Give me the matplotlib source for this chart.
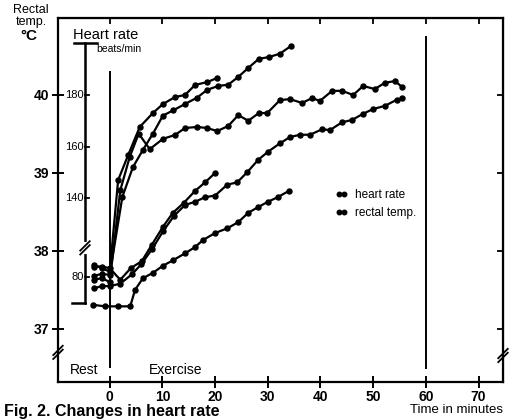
import numpy as np
import matplotlib
matplotlib.use("Agg")
import matplotlib.pyplot as plt

plt.rcParams['font.family'] = ['Liberation Sans', 'DejaVu Sans']

# heart rate curves (minutes, beats/min)
t_hr1 = [-3, -1.5, 0, 1.6, 3.5, 5.7, 8.2, 10.1, 12.4, 14.3, 16.2, 18.5, 20.4]
hr1 = [84.6, 83.5, 82, 147, 156.7, 167.6, 173, 176.5, 179.2, 180, 183.9, 185, 186.6]

t_hr2 = [-3, -1.5, 0, 2.4, 4.4, 6.3, 8.2, 10.1, 12.0, 14.3, 16.6, 18.5, 20.6,
         22.5, 24.4, 26.3, 28.3, 30.2, 32.3, 34.4]
hr2 = [80.4, 81.2, 80.8, 140.5, 152, 158.7, 165, 172, 174, 176.5, 179, 182, 183.5,
       184, 187, 190.5, 194, 194.7, 196, 199]

t_hr3 = [-3, -1.5, 0, 2.0, 3.8, 5.5, 7.6, 10.1, 12.4, 14.3, 16.6, 18.5, 20.4, 22.5,
         24.4, 26.3, 28.3, 29.9, 32.3, 34.2, 36.5, 38.4, 39.9, 42.2, 44.1, 46.2,
         48.1, 50.3, 52.2, 54.1, 55.5]
hr3 = [78.8, 79.6, 78, 143, 156, 165, 159, 163, 164.5, 167.2, 167.6, 167.2, 166, 168,
       172.2, 170, 173, 173, 178, 178.4, 176.9, 178.8, 177.7, 181.6, 181.6, 180,
       183.5, 182.3, 184.7, 185.4, 183.1]

# rectal temperature curves (minutes, deg C)
t_t1 = [-3, -1.5, 0, 2.0, 4.0, 6.1, 8.0, 10.1, 12.0, 14.1, 16.2, 18.1, 20.0]
temp1 = [37.80, 37.80, 37.78, 37.63, 37.78, 37.87, 38.08, 38.31, 38.49, 38.62,
         38.77, 38.88, 39.0]

t_t2 = [-3, -1.5, 0, 2.0, 4.2, 6.0, 8.1, 10.1, 12.2, 14.3, 16.2, 18.1, 20.0, 22.3,
        24.2, 26.1, 28.2, 30.0, 32.3, 34.2, 36.1, 38.0, 40.3, 41.8, 44.1, 46.0,
        48.1, 50.0, 52.2, 54.5, 55.5]
temp2 = [37.52, 37.55, 37.55, 37.58, 37.70, 37.83, 38.03, 38.25, 38.45, 38.59,
         38.63, 38.69, 38.71, 38.85, 38.88, 39.01, 39.17, 39.27, 39.38, 39.46,
         39.49, 39.49, 39.56, 39.55, 39.65, 39.68, 39.76, 39.82, 39.86, 39.94, 39.96]

t_t3 = [-3.2, -0.9, 1.6, 3.9, 4.8, 6.3, 8.2, 10.1, 12.0, 14.3, 16.2, 17.7, 20.0,
        22.3, 24.4, 26.3, 28.1, 30.0, 31.9, 34.0]
temp3 = [37.31, 37.29, 37.29, 37.29, 37.5, 37.65, 37.72, 37.81, 37.88, 37.97,
         38.05, 38.14, 38.23, 38.29, 38.37, 38.49, 38.56, 38.63, 38.69, 38.77]

x_ticks = [0, 10, 20, 30, 40, 50, 60, 70]
temp_ticks = [37, 38, 39, 40]
hr_ticks = [80, 140, 160, 180]


def hr2temp(hr):
    # heart rate scale drawn on the temp axis, broken between 80 and 140
    hr = np.asarray(hr, dtype=float)
    k = 2.58 / 78
    return np.where(hr >= 110, 40 - (180 - hr) * k, 37.667 - (80 - hr) * k)


fig = plt.figure(figsize=(5.14, 4.2), dpi=100)
ax = fig.add_axes([58/514, 38/420, 445/514, 364/420])
ax.set_xlim(-9.81, 74.63)
ax.set_ylim(36.32, 40.987)

style = dict(color='black', lw=1.6, marker='o', ms=3.6)
ax.plot(t_hr1, hr2temp(hr1), label='heart rate', **style)
ax.plot(t_hr2, hr2temp(hr2), **style)
ax.plot(t_hr3, hr2temp(hr3), **style)
ax.plot(t_t1, temp1, label='rectal temp.', **style)
ax.plot(t_t2, temp2, **style)
ax.plot(t_t3, temp3, **style)

# rest / exercise markers
ax.plot([0, 0], [36.51, 40.29], color='black', lw=1.4)
ax.plot([60, 60], [36.50, 40.74], color='black', lw=1.4)

# heart rate axis inside the plot
hx = -4.69
ax.plot([hx, hx], hr2temp([70, 200]), color='black', lw=1.8)
ax.plot([-6.8, -2.4], hr2temp([200, 200]), color='black', lw=1.8)
ax.plot([-7.15, hx], hr2temp([70, 70]), color='black', lw=1.8)
for h in hr_ticks:
    y = float(hr2temp(h))
    ax.plot([hx, hx + 0.8], [y, y], color='black', lw=1.3)
    ax.text(hx - 0.3, y, str(h), ha='right', va='center', fontsize=8)

# break marks
def brk(x, y, ax=ax):
    for d in (-0.025, 0.025):
        ax.plot([x - 0.9, x + 0.9], [y - 0.06 + d, y + 0.06 + d], color='black',
                lw=1.3, clip_on=False)

ax.plot([hx, hx], [37.99, 38.09], color='white', lw=3)
brk(hx, 38.04)
brk(-9.81, 36.70)
brk(74.63, 36.66)

ax.text(-6.95, 40.77, 'Heart rate', fontsize=10.5, va='center')
ax.text(-2.5, 40.59, 'beats/min', fontsize=7.5, va='center')
ax.text(-4.9, 36.47, 'Rest', fontsize=10, ha='center', va='center')
ax.text(12.6, 36.47, 'Exercise', fontsize=10, ha='center', va='center')

ax.set_xticks(x_ticks)
ax.set_xticklabels([str(v) for v in x_ticks], fontweight='bold', fontsize=10)
ax.set_yticks(temp_ticks)
ax.set_yticklabels([str(v) for v in temp_ticks], fontweight='bold', fontsize=10)
ax.tick_params(axis='both', direction='inout', length=8, width=1.4, pad=2)
for s in ax.spines.values():
    s.set_linewidth(1.6)

# inward ticks on top and right frame
top = ax.secondary_xaxis('top')
top.set_xticks(x_ticks)
top.set_xticklabels([])
top.tick_params(direction='in', length=4, width=1.3)
right = ax.secondary_yaxis('right')
right.set_yticks(temp_ticks)
right.set_yticklabels([])
right.tick_params(direction='in', length=4, width=1.3)

ax.legend(loc='upper left', bbox_to_anchor=(0.6, 0.56), frameon=False,
          fontsize=8.5, handlelength=1.0, numpoints=2, markerscale=0.9,
          labelspacing=0.5, handletextpad=0.6)

fig.text(31/514, 1 - 10/420, 'Rectal', fontsize=9, ha='center', va='center')
fig.text(31/514, 1 - 22/420, 'temp.', fontsize=9, ha='center', va='center')
fig.text(29/514, 1 - 36/420, '°C', fontsize=11, fontweight='bold', ha='center',
         va='center')
fig.text(456/514, 1 - 410/420, 'Time in minutes', fontsize=9.5, ha='center',
         va='center')
fig.text(4/514, 0.003, 'Fig. 2. Changes in heart rate', fontsize=11.5,
         fontweight='bold', ha='left', va='bottom')

fig.savefig('out.png', dpi=100, facecolor='white')
